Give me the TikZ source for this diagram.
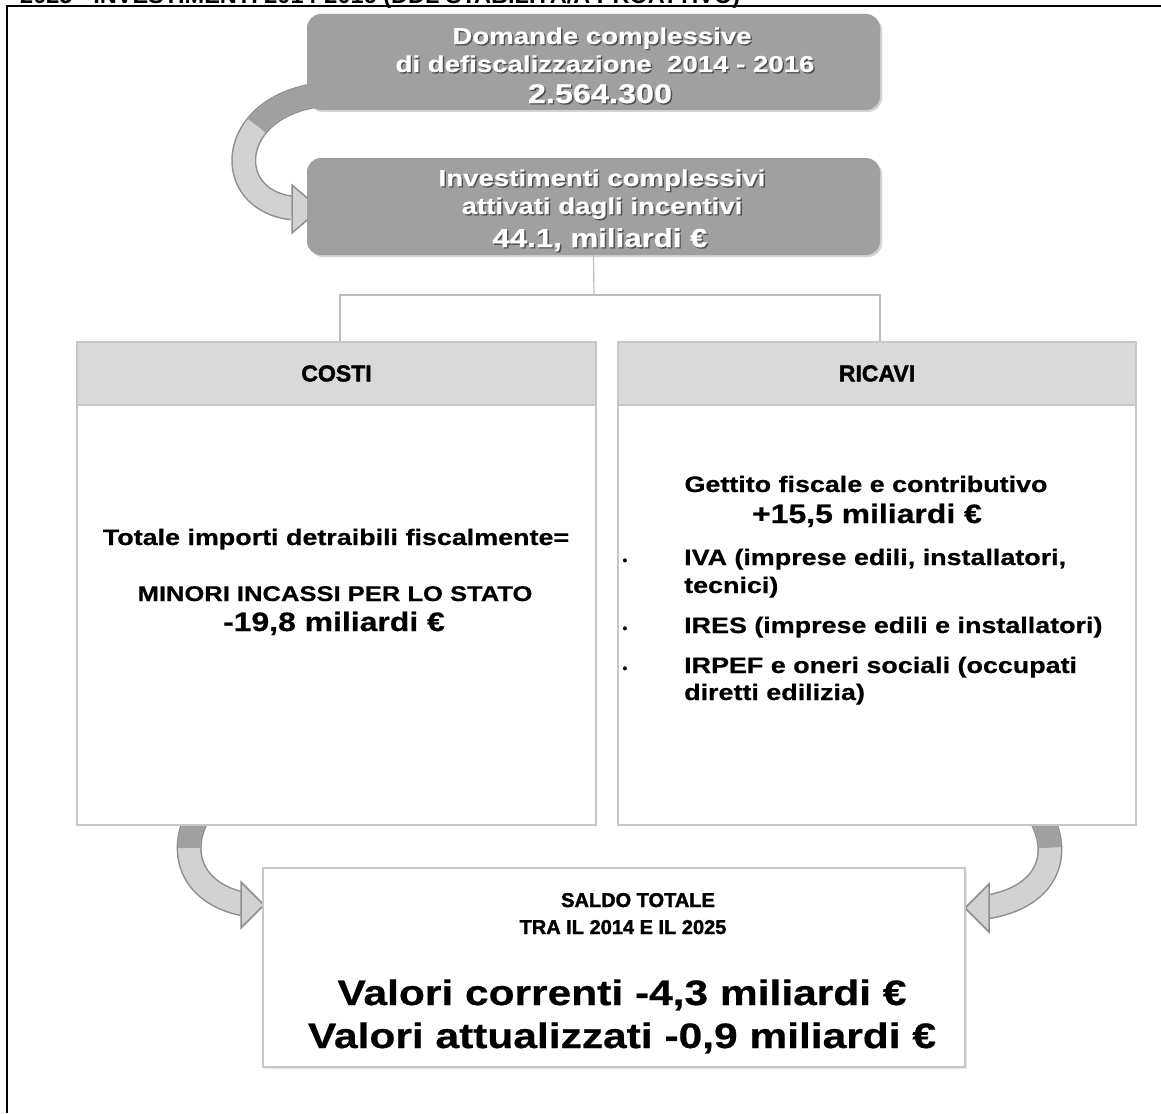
\documentclass[tikz,border=0pt]{standalone}
\usepackage{fontspec}
\setmainfont{Liberation Sans}
\newfontfamily\wf{Liberation Sans}[FakeStretch=1.2, BoldFeatures={FakeBold=0.6}]
\newfontfamily\hf{Liberation Sans}[BoldFeatures={FakeBold=1.8}]
\usetikzlibrary{calc,shadows}
\definecolor{topgray}{HTML}{A0A0A0}
\definecolor{shadowc}{HTML}{505050}
\definecolor{hdrgray}{HTML}{D9D9D9}
\definecolor{panelline}{HTML}{C6C6C6}
\definecolor{arrowfill}{HTML}{D2D2D2}
\definecolor{arrowedge}{HTML}{8E8E8E}
\definecolor{arrowdark}{HTML}{A0A0A0}
\definecolor{conline}{HTML}{BDBDBD}
\newcommand\shtxt[1]{\makebox[0pt][l]{\hspace{1.4pt}\raisebox{-1.4pt}{\textcolor{shadowc}{#1}}}#1}
\newcommand\fs[1]{\fontsize{#1}{#1}\selectfont}
\tikzset{
  topbox/.style={fill=topgray, rounded corners=14pt, inner sep=0pt,
    drop shadow={opacity=0.35, shadow xshift=2pt, shadow yshift=-2pt}},
  toptxt/.style={anchor=base, text=white, font=\wf\bfseries\fs{23}, inner sep=0pt},
  panel/.style={draw=panelline, line width=1.5pt, fill=white, inner sep=0pt},
  hdrbox/.style={draw=panelline, line width=1.5pt, fill=hdrgray, inner sep=0pt, font=\hf\bfseries\fs{23}},
  body/.style={anchor=base, inner sep=0pt, font=\wf\bfseries\fs{22.4}},
  bodyl/.style={anchor=base west, inner sep=0pt, font=\wf\bfseries\fs{22.4}},
  big/.style={anchor=base, inner sep=0pt, font=\wf\bfseries\fs{26.6}},
  huge/.style={anchor=base, inner sep=0pt, font=\wf\bfseries\fs{35.4}},
  conn/.style={draw=conline, line width=1.2pt},
  bandout/.style={draw=arrowedge, line width=25pt},
  bandin/.style={draw=arrowfill, line width=22pt},
  banddark/.style={draw=arrowdark, line width=22pt},
  arrhead/.style={fill=arrowfill, draw=arrowedge, line width=1.5pt, line join=miter},
}
\begin{document}
\begin{tikzpicture}[x=1pt, y=-1pt]
\useasboundingbox (0,0) rectangle (1161,1113);
\fill[white] (0,0) rectangle (1161,1113);

% clipped title
\node[anchor=base west, inner sep=0pt, font=\bfseries\fs{23.5}] (ttl) at (20,3.5)
  {2025 - INVESTIMENTI 2014-2016 (DDL STABILIT\`A/A PROATTIVO)};
\draw[line width=2.2pt] (1161,6) -- (7,6) -- (7,1113);

% coordinates for curved arrows
\coordinate (a1s) at (318,95);
\coordinate (a1e) at (292,208);
\coordinate (a2s) at (200,812);
\coordinate (a2e) at (243,904);
\coordinate (a3s) at (1038,812);
\coordinate (a3e) at (987,907);

% top curved arrow
\draw[bandout] (a1s) .. controls (226,108) and (222,200) .. (a1e);
\draw[bandin] (a1s) .. controls (226,108) and (222,200) .. (a1e);
\draw[banddark, dash pattern=on 70pt off 1000pt] (a1s) .. controls (226,108) and (222,200) .. (a1e);
\draw[arrhead] (292,185) -- (320,209) -- (292,233) -- cycle;

% bottom-left curved arrow
\draw[bandout] (a2s) .. controls (178,848) and (188,892) .. (a2e);
\draw[bandin] (a2s) .. controls (178,848) and (188,892) .. (a2e);
\draw[banddark, dash pattern=on 38pt off 1000pt] (a2s) .. controls (178,848) and (188,892) .. (a2e);
\draw[arrhead] (241,882) -- (264,905) -- (241,928) -- cycle;

% bottom-right curved arrow
\draw[bandout] (a3s) .. controls (1062,850) and (1052,896) .. (a3e);
\draw[bandin] (a3s) .. controls (1062,850) and (1052,896) .. (a3e);
\draw[banddark, dash pattern=on 38pt off 1000pt] (a3s) .. controls (1062,850) and (1052,896) .. (a3e);
\draw[arrhead] (989,884) -- (965,908) -- (989,932) -- cycle;

% top boxes
\node[topbox, minimum width=573pt, minimum height=96pt] (b1) at (593.5,62) {};
\node[toptxt] (b1t1) at (602,44) {\shtxt{Domande complessive}};
\node[toptxt] (b1t2) at (605,72) {\shtxt{di defiscalizzazione\ \ 2014 - 2016}};
\node[toptxt, font=\wf\bfseries\fs{27}] (b1t3) at (600,103) {\shtxt{2.564.300}};

\node[topbox, minimum width=573pt, minimum height=97pt] (b2) at (593.5,206.5) {};
\node[toptxt] (b2t1) at (602,186) {\shtxt{Investimenti complessivi}};
\node[toptxt] (b2t2) at (602,214) {\shtxt{attivati dagli incentivi}};
\node[toptxt, font=\wf\bfseries\fs{26}] (b2t3) at (600,247) {\shtxt{44.1, miliardi €}};

% panels
\node[panel, minimum width=519pt, minimum height=483pt] (costi) at (336.5,583.5) {};
\node[hdrbox, minimum width=519pt, minimum height=63pt, anchor=north] (costih) at (costi.north) {COSTI};
\node[panel, minimum width=518pt, minimum height=483pt] (ricavi) at (877,583.5) {};
\node[hdrbox, minimum width=518pt, minimum height=63pt, anchor=north] (ricavih) at (ricavi.north) {RICAVI};

% connector
\coordinate (j) at (594,295);
\coordinate (jl) at (340,295);
\coordinate (jr) at (880,295);
\draw[conn] (b2.south) -- (j);
\draw[conn] (costih.north -| jl) -- (jl) -- (jr) -- (ricavih.north -| jr);

% costi text
\node[body] (c1) at (336,545) {Totale importi detraibili fiscalmente=};
\node[body, font=\wf\bfseries\fs{21.3}] (c2) at (335,601) {MINORI INCASSI PER LO STATO};
\node[big] (c3) at (334,631) {-19,8 miliardi €};

% ricavi text
\node[body] (r1) at (866,492) {Gettito fiscale e contributivo};
\node[big] (r2) at (867,523) {+15,5 miliardi €};
\node[anchor=base, inner sep=0pt, font=\bfseries\fs{14}] (bl1) at (625,565) {•};
\node[anchor=base, inner sep=0pt, font=\bfseries\fs{14}] (bl2) at (625,633) {•};
\node[anchor=base, inner sep=0pt, font=\bfseries\fs{14}] (bl3) at (625,673) {•};
\node[bodyl] (r3) at (684,565) {IVA (imprese edili, installatori,};
\node[bodyl] (r4) at (684,593) {tecnici)};
\node[bodyl] (r5) at (684,633) {IRES (imprese edili e installatori)};
\node[bodyl] (r6) at (684,673) {IRPEF e oneri sociali (occupati};
\node[bodyl] (r7) at (684,700) {diretti edilizia)};

% saldo box
\node[panel, minimum width=702pt, minimum height=199pt,
  drop shadow={opacity=0.2, shadow xshift=2pt, shadow yshift=-2pt}] (saldo) at (614,967.5) {};
\node[anchor=base, inner sep=0pt, font=\hf\bfseries\fs{20}] (s1) at (638,907) {SALDO TOTALE};
\node[anchor=base, inner sep=0pt, font=\hf\bfseries\fs{20}] (s2) at (623,934) {TRA IL 2014 E IL 2025};
\node[huge] (s3) at (622,1005) {Valori correnti -4,3 miliardi €};
\node[huge] (s4) at (622,1048) {Valori attualizzati -0,9 miliardi €};
\end{tikzpicture}
\end{document}
